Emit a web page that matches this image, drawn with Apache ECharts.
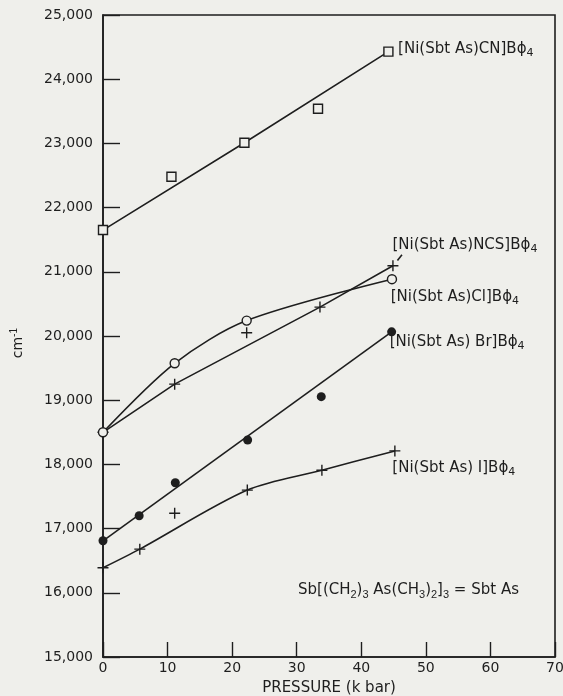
<!DOCTYPE html>
<html>
<head>
<meta charset="utf-8">
<script src="https://cdn.jsdelivr.net/npm/echarts@6/dist/echarts.min.js"></script>
<style>
html,body{margin:0;padding:0;background:#efefeb;}
#c{width:563px;height:696px;}
</style>
</head>
<body>
<div id="c"></div>
<script>
// ---- data ----
const xTicks = [0, 10, 20, 30, 40, 50, 60, 70];
const yTicks = [15000, 16000, 17000, 18000, 19000, 20000, 21000, 22000, 23000, 24000, 25000];

const cnX = [0, 10.6, 21.9, 33.3, 44.2];
const cnY = [21650, 22480, 23010, 23540, 24430];
const cnFitX = [0, 21.9, 44.2];
const cnFitY = [21650, 23010, 24430];

const ncsX = [0, 11.1, 22.25, 33.6, 44.9];
const ncsY = [18500, 19250, 20050, 20450, 21095];
const ncsFitX = [0, 11.1, 33.6, 44.9];
const ncsFitY = [18500, 19250, 20450, 21095];
const ncsExtX = [45.6, 46.3];
const ncsExtY = [21175, 21265];

const clX = [0, 11.1, 22.25, 44.75];
const clY = [18500, 19575, 20240, 20885];

const brX = [0, 5.6, 11.2, 22.4, 33.8, 44.7];
const brY = [16810, 17200, 17715, 18380, 19055, 20065];
const brFitX = [0, 44.7];
const brFitY = [16810, 20065];

const iX = [0, 5.7, 11.1, 22.35, 33.9, 45.2];
const iY = [16390, 16680, 17240, 17600, 17910, 18210];
const iFitX = [0, 5.7, 22.35, 33.9, 45.2];
const iFitY = [16390, 16680, 17600, 17910, 18210];

const labels = {
  cn: '[Ni(Sbt As)CN]B\u03d5{s|4}',
  ncs: '[Ni(Sbt As)NCS]B\u03d5{s|4}',
  cl: '[Ni(Sbt As)Cl]B\u03d5{s|4}',
  br: '[Ni(Sbt As) Br]B\u03d5{s|4}',
  i: '[Ni(Sbt As) I]B\u03d5{s|4}'
};
// ------------------------------------

const INK = '#1e1e1e';
const BG = '#efefeb';
const FONT = '"DejaVu Sans", sans-serif';
const zip = (a, b) => a.map((v, i) => [v, b[i]]);
const rich = { s: { fontSize: 11, verticalAlign: 'bottom', padding: [8, 0, 0, 0], color: INK, fontFamily: FONT } };

function pts(xs, ys, lbl, off, size) {
  return xs.map((x, i) => {
    const d = { value: [x, ys[i]] };
    if (lbl && i === xs.length - 1) {
      d.label = {
        show: true, position: 'right', distance: 0,
        offset: [off[0] - size / 2, off[1]], formatter: lbl, color: INK,
        fontSize: 15, fontFamily: FONT, rich: rich
      };
    }
    return d;
  });
}

const plusPath = 'path://M0,5L10,5M5,0L5,10';
const lineStyle = { color: INK, width: 1.6 };

function fit(data, smooth, extra) {
  return Object.assign({
    type: 'line', data: data, symbol: 'none', smooth: smooth,
    lineStyle: lineStyle, silent: true, z: 2
  }, extra || {});
}
function marks(data, symbol, size, filled) {
  return {
    type: 'scatter', data: data, symbol: symbol, symbolSize: size, z: 3, silent: true,
    itemStyle: filled ? { color: INK, opacity: 1 } : {
      color: symbol.indexOf('path') === 0 ? 'none' : BG, borderColor: INK, borderWidth: 1.4, opacity: 1
    }
  };
}

const chart = echarts.init(document.getElementById('c'));
chart.setOption({
  backgroundColor: BG,
  animation: false,
  grid: { left: 103, right: 8, top: 15, bottom: 39, show: true, borderColor: INK, borderWidth: 1.6,
    containLabel: false, outerBoundsMode: 'none' },
  xAxis: {
    type: 'value', min: xTicks[0], max: xTicks[xTicks.length - 1], interval: 10,
    axisLine: { show: true, lineStyle: { color: INK, width: 1.6 } },
    axisTick: { show: true, inside: true, length: 15, lineStyle: { color: INK, width: 1.4 } },
    splitLine: { show: false },
    axisLabel: { color: INK, fontSize: 14, fontFamily: FONT, margin: 4 },
    name: 'PRESSURE (k bar)', nameLocation: 'middle', nameGap: 24,
    nameTextStyle: { color: INK, fontSize: 15, fontFamily: FONT }
  },
  yAxis: {
    type: 'value', min: yTicks[0], max: yTicks[yTicks.length - 1], interval: 1000,
    axisLine: { show: true, lineStyle: { color: INK, width: 1.6 } },
    axisTick: { show: true, inside: true, length: 17, lineStyle: { color: INK, width: 1.4 } },
    splitLine: { show: false },
    axisLabel: {
      color: INK, fontSize: 14, fontFamily: FONT, margin: 10,
      formatter: v => String(v).replace(/\B(?=(\d{3})+(?!\d))/g, ',')
    }
  },
  graphic: [
    {
      type: 'text', left: 9, top: 328, rotation: Math.PI / 2,
      style: { text: 'cm{sup|-1}', fill: INK, font: '14px ' + FONT,
        rich: { sup: { fontSize: 10, verticalAlign: 'top', padding: [0, 0, 8, 0], fill: INK } } }
    },
    {
      type: 'text', left: 298, top: 583,
      style: { text: 'Sb[(CH{s|2}){s|3} As(CH{s|3}){s|2}]{s|3} = Sbt As', fill: INK, font: '15px ' + FONT,
        rich: { s: { fontSize: 11, padding: [8, 0, 0, 0], fill: INK } } }
    }
  ],
  series: [
    fit(zip(cnFitX, cnFitY), false),
    fit(zip(ncsFitX, ncsFitY), false),
    fit(zip(ncsExtX, ncsExtY), false),
    fit(zip(clX, clY), 0.3),
    fit(zip(brFitX, brFitY), false),
    fit(zip(iFitX, iFitY), 0.3),
    marks(pts(cnX, cnY, labels.cn, [9, -2], 9), 'rect', 9, false),
    marks(pts(ncsX, ncsY, labels.ncs, [-3, -21], 11), plusPath, 11, false),
    marks(pts(clX, clY, labels.cl, [-2, 18], 9), 'circle', 9, false),
    marks(pts(brX, brY, labels.br, [-2, 10], 9), 'circle', 9, true),
    marks(pts(iX, iY, labels.i, [-5, 17], 11), plusPath, 11, false)
  ]
});
</script>
</body>
</html>
